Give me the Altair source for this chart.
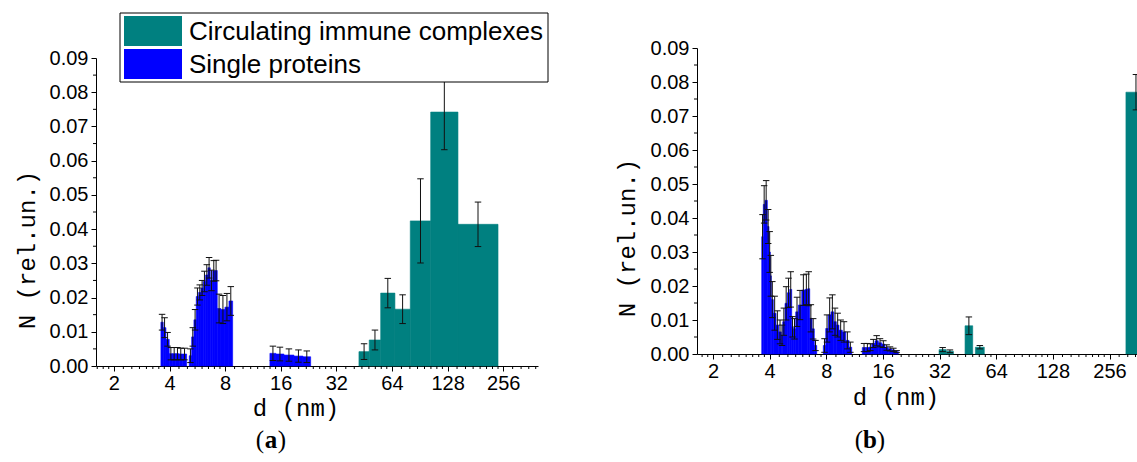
import math
import altair as alt
import pandas as pd

TEAL = "#008080"
BLUE = "#0000ff"
KINDS = ["Circulating immune complexes", "Single proteins"]

# ---------------- panel (a) ----------------
# single proteins, three contiguous size groups (bin edges in nm)
a_sp1_edges = [3.593, 3.698, 3.825, 3.985, 4.153, 4.327, 4.509, 4.698, 4.951]
a_sp1_N = [0.0128, 0.0112, 0.0078, 0.0036, 0.0036, 0.0036, 0.0035, 0.0035]
a_sp1_err = [0.0023, 0.0029, 0.0020, 0.0018, 0.0018, 0.0018, 0.0017, 0.0017]

a_sp2_edges = [5.114, 5.270, 5.423, 5.581, 5.750, 5.918, 6.090, 6.275, 6.457,
               6.645, 6.847, 7.046, 7.251, 7.593, 7.980, 8.389, 8.785]
a_sp2_N = [0.0030, 0.0085, 0.0135, 0.0203, 0.0215, 0.0228, 0.0247, 0.0266,
           0.0287, 0.0250, 0.0278, 0.0279, 0.0168, 0.0165, 0.0172, 0.0190]
a_sp2_err = [0.0020, 0.0027, 0.0030, 0.0025, 0.0022, 0.0022, 0.0030, 0.0030,
             0.0030, 0.0030, 0.0030, 0.0030, 0.0042, 0.0041, 0.0040, 0.0042]

a_sp3_edges = [13.98, 15.07, 16.65, 18.86, 21.10, 23.23]
a_sp3_N = [0.0037, 0.0035, 0.0032, 0.0029, 0.0027]
a_sp3_err = [0.0021, 0.0020, 0.0018, 0.0018, 0.0017]

# circulating immune complexes
a_cic_edges = [42.4, 48.2, 55.6, 66.4, 80.4, 103.7, 145.7, 240.0]
a_cic_N = [0.0042, 0.0076, 0.0213, 0.0166, 0.0424, 0.0742, 0.0414]
a_cic_err = [0.0023, 0.0029, 0.0043, 0.0042, 0.0123, 0.0110, 0.0065]

# ---------------- panel (b) ----------------
b_sp1_edges = [3.630, 3.701, 3.779, 3.887, 3.969, 4.032, 4.082, 4.183, 4.324,
               4.469, 4.614, 4.693]
b_sp1_N = [0.0345, 0.0440, 0.0452, 0.0375, 0.0300, 0.0230, 0.0160, 0.0120,
           0.0085, 0.0065, 0.0055]
b_sp1_err = [0.0065, 0.0055, 0.0058, 0.0050, 0.0060, 0.0060, 0.0053, 0.0050,
             0.0042, 0.0035, 0.0030]

b_sp2_edges = [4.693, 4.827, 4.965, 5.113, 5.240, 5.343]
b_sp2_N = [0.0095, 0.0149, 0.0180, 0.0190, 0.0080]
b_sp2_err = [0.0040, 0.0049, 0.0043, 0.0052, 0.0030]

b_sp3_edges = [5.343, 5.502, 5.680, 5.922, 6.166, 6.373, 6.531, 6.717, 6.909, 7.116]
b_sp3_N = [0.0074, 0.0124, 0.0144, 0.0188, 0.0190, 0.0192, 0.0105, 0.0074, 0.0025]
b_sp3_err = [0.0030, 0.0043, 0.0043, 0.0045, 0.0045, 0.0050, 0.0040, 0.0030, 0.0015]

b_sp4_edges = [7.713, 7.943, 8.200, 8.476, 8.761, 9.043, 9.347, 9.733, 10.146,
               10.564, 10.919]
b_sp4_N = [0.0025, 0.0075, 0.0115, 0.0124, 0.0095, 0.0085, 0.0070, 0.0065,
           0.0040, 0.0020]
b_sp4_err = [0.0020, 0.0040, 0.0050, 0.0050, 0.0040, 0.0035, 0.0030, 0.0030,
             0.0025, 0.0015]

b_sp5_edges = [12.43, 12.96, 13.49, 13.95, 14.52, 15.12, 15.76, 16.41, 17.09,
               17.81, 18.55, 19.31]
b_sp5_N = [0.0019, 0.0019, 0.0020, 0.0031, 0.0039, 0.0033, 0.0029, 0.0019,
           0.0015, 0.0012, 0.0007]
b_sp5_err = [0.0012, 0.0012, 0.0010, 0.0012, 0.0015, 0.0012, 0.0010, 0.0008,
             0.0006, 0.0005, 0.0003]

b_cic_lo = [31.8, 34.8, 43.7, 49.6, 313.0]
b_cic_hi = [34.7, 37.9, 48.0, 55.3, 400.0]
b_cic_N = [0.0013, 0.0008, 0.0083, 0.0020, 0.0770]
b_cic_err = [0.0006, 0.0004, 0.0026, 0.0005, 0.0052]

x_major = [2, 4, 8, 16, 32, 64, 128, 256]
y_major = [round(0.01 * i, 2) for i in range(10)]
y_minor = [round(0.005 + 0.01 * i, 3) for i in range(9)]


def bins(lo, hi, N, err, kind):
    return [dict(lo=l, hi=h, mid=math.sqrt(l * h), N=n, base=0.0,
                 elo=n - e, ehi=n + e, kind=kind)
            for l, h, n, e in zip(lo, hi, N, err)]


def hist(edges, N, err, kind):
    return bins(edges[:-1], edges[1:], N, err, kind)


def minor_ticks(lo, hi):
    out = []
    b = 1.0
    while b < hi:
        for j in range(1, 8):
            v = b * (1 + j / 8)
            if lo < v < hi:
                out.append(v)
        b *= 2
    return out


FONT = "Liberation Sans"
MONO = "Liberation Mono"
SERIF = "Liberation Serif"

kind_scale = alt.Scale(domain=KINDS, range=[TEAL, BLUE])
color = alt.Color("kind:N", scale=kind_scale, legend=None)
stroke = alt.Stroke("kind:N", scale=kind_scale, legend=None)


def panel(rows, xdom, xrange, yrange, label_x, title_pos, tag_x, legend=False):
    df = pd.DataFrame(rows)
    caps = pd.DataFrame(
        [dict(mid=r["mid"], v=r["elo"]) for r in rows]
        + [dict(mid=r["mid"], v=r["ehi"]) for r in rows])
    x_axis_y = yrange[0]
    y_axis_x = xrange[0]
    xs = alt.Scale(type="log", base=2, domain=xdom, range=xrange, nice=False)
    ys = alt.Scale(domain=[0, 0.09], range=yrange, nice=False, zero=False)
    xax = alt.Axis(orient="bottom", offset=x_axis_y - 462, values=x_major,
                   format="d", title=None, grid=False, labelFont=FONT,
                   labelFontSize=20, labelColor="black", tickColor="black",
                   domainColor="black", tickSize=5, labelPadding=2,
                   labelFlush=False, labelOverlap=False)
    yax = alt.Axis(orient="left", offset=-y_axis_x, values=y_major,
                   format=".2f", title=None, grid=False, labelFont=FONT,
                   labelFontSize=20, labelColor="black", tickColor="black",
                   domainColor="black", tickSize=5, labelPadding=3)

    bars = alt.Chart(df).mark_rect(strokeWidth=0.6).encode(
        x=alt.X("lo:Q", scale=xs, axis=xax),
        x2="hi:Q",
        y=alt.Y("N:Q", scale=ys, axis=yax),
        y2="base:Q",
        color=color,
        stroke=stroke,
    )
    err = alt.Chart(df).mark_rule(color="#111", strokeWidth=1).encode(
        x=alt.X("mid:Q", scale=xs, axis=xax),
        y=alt.Y("elo:Q", scale=ys, axis=yax),
        y2="ehi:Q",
    )
    cap = alt.Chart(caps).mark_point(shape="M-1,0L1,0", size=42, filled=False,
                                     color="#111", strokeWidth=1,
                                     opacity=1).encode(
        x=alt.X("mid:Q", scale=xs, axis=xax),
        y=alt.Y("v:Q", scale=ys, axis=yax),
    )
    xmin = pd.DataFrame({"t": minor_ticks(xdom[0], xdom[1])})
    xminor = alt.Chart(xmin).mark_rule(color="black", strokeWidth=1).encode(
        x=alt.X("t:Q", scale=xs, axis=xax),
        y=alt.value(x_axis_y), y2=alt.value(x_axis_y + 3),
    )
    ymin = pd.DataFrame({"t": y_minor})
    yminor = alt.Chart(ymin).mark_rule(color="black", strokeWidth=1).encode(
        y=alt.Y("t:Q", scale=ys, axis=yax),
        x=alt.value(y_axis_x - 3), x2=alt.value(y_axis_x),
    )

    ytitle = alt.Chart(pd.DataFrame({"t": ["N (rel.un.)"]})).mark_text(
        font=MONO, fontSize=24, angle=270, align="center", baseline="middle",
        color="black").encode(text="t:N", x=alt.value(title_pos[0]),
                              y=alt.value(title_pos[1]))
    xtitle = alt.Chart(pd.DataFrame({"t": ["d (nm)"]})).mark_text(
        font=MONO, fontSize=24, align="center", baseline="middle",
        color="black").encode(text="t:N", x=alt.value(label_x[0]),
                              y=alt.value(label_x[1]))
    paren = alt.Chart(pd.DataFrame({"t": ["(", ")"]})).transform_calculate(
        px=f"datum.t == '(' ? {tag_x[0] - 11} : {tag_x[0] + 11}").mark_text(
        font=SERIF, fontSize=25, align="center", baseline="middle",
        color="black").encode(text="t:N", x=alt.X("px:Q", scale=None),
                              y=alt.value(tag_x[1]))
    letter = alt.Chart(pd.DataFrame({"t": [tag_x[2]]})).mark_text(
        font=SERIF, fontSize=25, fontWeight="bold", align="center",
        baseline="middle", color="black").encode(
        text="t:N", x=alt.value(tag_x[0]), y=alt.value(tag_x[1]))

    layers = [bars, err, cap, xminor, yminor, ytitle, xtitle, paren, letter]

    if legend:
        leg = pd.DataFrame({"kind": KINDS, "row": [0, 1]})
        box = alt.Chart(pd.DataFrame({"k": [0]})).mark_rect(
            fill="white", stroke="black", strokeWidth=1).encode(
            x=alt.value(120), x2=alt.value(548), y=alt.value(13),
            y2=alt.value(82))
        sw = alt.Chart(leg).transform_calculate(
            y0="16 + datum.row * 33", y1="46 + datum.row * 33").mark_rect().encode(
            x=alt.value(124), x2=alt.value(182),
            y=alt.Y("y0:Q", scale=None), y2="y1:Q",
            color=color)
        txt = alt.Chart(leg).transform_calculate(
            yy="40 + datum.row * 33").mark_text(
            font=FONT, fontSize=26, align="left", baseline="alphabetic",
            color="black").encode(text="kind:N", x=alt.value(189),
                                  y=alt.Y("yy:Q", scale=None))
        layers += [box, sw, txt]

    return alt.layer(*layers)


rows_a = (hist(a_sp1_edges, a_sp1_N, a_sp1_err, KINDS[1])
          + hist(a_sp2_edges, a_sp2_N, a_sp2_err, KINDS[1])
          + hist(a_sp3_edges, a_sp3_N, a_sp3_err, KINDS[1])
          + hist(a_cic_edges, a_cic_N, a_cic_err, KINDS[0]))
rows_b = (hist(b_sp1_edges, b_sp1_N, b_sp1_err, KINDS[1])
          + hist(b_sp2_edges, b_sp2_N, b_sp2_err, KINDS[1])
          + hist(b_sp3_edges, b_sp3_N, b_sp3_err, KINDS[1])
          + hist(b_sp4_edges, b_sp4_N, b_sp4_err, KINDS[1])
          + hist(b_sp5_edges, b_sp5_N, b_sp5_err, KINDS[1])
          + bins(b_cic_lo, b_cic_hi, b_cic_N, b_cic_err, KINDS[0]))

panel_a = panel(rows_a, [1.6, 395], [96, 538], [366, 58],
                (296, 409), (28, 250), (271, 440, "a"), legend=True)
panel_b = panel(rows_b, [1.644, 450], [697, 1155.6], [354, 48],
                (896, 398), (628, 238), (870, 440, "b"))

chart = alt.layer(panel_a, panel_b).resolve_scale(
    x="independent", y="independent"
).properties(
    width=1137, height=462, padding=0,
    autosize=alt.AutoSizeParams(type="none"),
    background="white",
).configure_view(stroke=None)

chart.save("out.html", embed_options={"renderer": "svg", "actions": False})
